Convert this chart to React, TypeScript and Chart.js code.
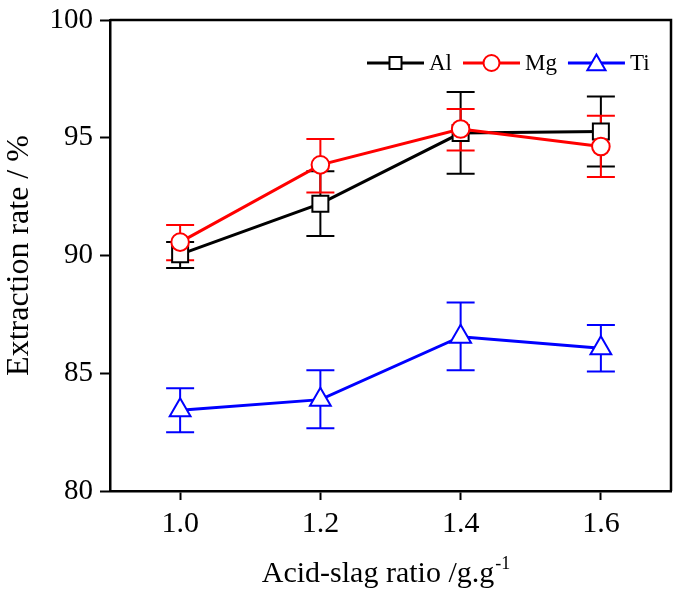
import React, { useEffect, useRef } from "react";
import { Chart, registerables } from "chart.js";

Chart.register(...registerables);

// ---- data ----
const ratios = [1.0, 1.2, 1.4, 1.6];
const alValues = [90.05, 92.2, 95.2, 95.27];
const alLow = [89.47, 90.83, 93.47, 93.78];
const alHigh = [90.57, 93.58, 96.94, 96.75];
const mgValues = [90.57, 93.85, 95.37, 94.63];
const mgLow = [89.8, 92.68, 94.46, 93.33];
const mgHigh = [91.3, 94.95, 96.22, 95.93];
const tiValues = [83.43, 83.88, 86.55, 86.06];
const tiLow = [82.49, 82.66, 85.13, 85.07];
const tiHigh = [84.36, 85.13, 88.0, 87.05];
const xTickValues = [1.0, 1.2, 1.4, 1.6];
const seriesNames = ["Al", "Mg", "Ti"];
const xTitle = "Acid-slag ratio /g.g";
const xTitleSup = "-1";
const yTitle = "Extraction rate / %";

const FONT = "'Liberation Serif', 'Times New Roman', serif";

const errorBarPlugin = {
  id: "errorBars",
  beforeDatasetsDraw(chart: any) {
    const ctx = chart.ctx;
    const yScale = chart.scales.y;
    chart.data.datasets.forEach((ds: any, di: number) => {
      const meta = chart.getDatasetMeta(di);
      ctx.save();
      ctx.strokeStyle = ds.borderColor;
      ctx.lineWidth = 2;
      meta.data.forEach((pt: any, i: number) => {
        const x = pt.x;
        const yl = yScale.getPixelForValue(ds.errLow[i]);
        const yh = yScale.getPixelForValue(ds.errHigh[i]);
        const hw = 14;
        ctx.beginPath();
        ctx.moveTo(x, yl);
        ctx.lineTo(x, yh);
        ctx.moveTo(x - hw, yl);
        ctx.lineTo(x + hw, yl);
        ctx.moveTo(x - hw, yh);
        ctx.lineTo(x + hw, yh);
        ctx.stroke();
      });
      ctx.restore();
    });
  },
};

const framePlugin = {
  id: "frame",
  afterDraw(chart: any) {
    const { ctx, chartArea } = chart;
    ctx.save();
    ctx.strokeStyle = "#000";
    ctx.lineWidth = 2.5;
    ctx.beginPath();
    ctx.moveTo(chartArea.left, chartArea.top);
    ctx.lineTo(chartArea.right, chartArea.top);
    ctx.lineTo(chartArea.right, chartArea.bottom);
    ctx.stroke();
    ctx.restore();
  },
};

const xTitlePlugin = {
  id: "xTitle",
  afterDraw(chart: any) {
    const { ctx, chartArea } = chart;
    ctx.save();
    ctx.fillStyle = "#000";
    ctx.textBaseline = "alphabetic";
    ctx.font = `30px ${FONT}`;
    const w1 = ctx.measureText(xTitle).width;
    ctx.font = `18px ${FONT}`;
    const w2 = ctx.measureText(xTitleSup).width;
    const cx = (chartArea.left + chartArea.right) / 2 - 5;
    const x0 = cx - (w1 + w2) / 2;
    const base = 582;
    ctx.font = `30px ${FONT}`;
    ctx.textAlign = "left";
    ctx.fillText(xTitle, x0, base);
    ctx.font = `18px ${FONT}`;
    ctx.fillText(xTitleSup, x0 + w1 + 1, base - 13);
    ctx.restore();
  },
};

function drawMarker(ctx: CanvasRenderingContext2D, style: string, r: number, x: number, y: number) {
  ctx.beginPath();
  if (style === "rect") {
    const s = Math.SQRT1_2 * r;
    ctx.rect(x - s, y - s, 2 * s, 2 * s);
  } else if (style === "circle") {
    ctx.arc(x, y, r, 0, Math.PI * 2);
  } else {
    ctx.moveTo(x, y - r);
    ctx.lineTo(x + Math.sin((2 * Math.PI) / 3) * r, y + r / 2);
    ctx.lineTo(x - Math.sin((2 * Math.PI) / 3) * r, y + r / 2);
    ctx.closePath();
  }
  ctx.fill();
  ctx.stroke();
}

const legendPlugin = {
  id: "customLegend",
  afterDraw(chart: any) {
    const { ctx } = chart;
    const y = 63;
    let x = 367;
    const lineLen = 57;
    const radii = [8.5, 8, 10.5];
    ctx.save();
    chart.data.datasets.forEach((ds: any, i: number) => {
      ctx.strokeStyle = ds.borderColor;
      ctx.lineWidth = 3;
      ctx.beginPath();
      ctx.moveTo(x, y);
      ctx.lineTo(x + lineLen, y);
      ctx.stroke();
      ctx.fillStyle = "#fff";
      ctx.strokeStyle = ds.borderColor;
      ctx.lineWidth = 2;
      drawMarker(ctx, ds.pointStyle, radii[i], x + lineLen / 2, y + (ds.pointStyle === "triangle" ? 2 : 0));
      ctx.fillStyle = "#000";
      ctx.font = `23px ${FONT}`;
      ctx.textAlign = "left";
      ctx.textBaseline = "middle";
      ctx.fillText(ds.label, x + lineLen + 5, y + 1);
      const tw = ctx.measureText(ds.label).width;
      x = x + lineLen + 5 + tw + 11;
    });
    ctx.restore();
  },
};

export default function App() {
  const ref = useRef<HTMLCanvasElement | null>(null);
  useEffect(() => {
    document.body.style.margin = "0";
    const canvas = ref.current;
    if (!canvas) return;
    const mk = (vals: number[]) => ratios.map((r, i) => ({ x: r, y: vals[i] }));
    const chart = new Chart(canvas, {
      type: "line",
      data: {
        datasets: [
          {
            label: seriesNames[0],
            data: mk(alValues),
            errLow: alLow,
            errHigh: alHigh,
            borderColor: "#000000",
            backgroundColor: "#ffffff",
            pointBackgroundColor: "#ffffff",
            pointBorderColor: "#000000",
            borderWidth: 3,
            pointBorderWidth: 2,
            pointStyle: "rect",
            pointRadius: 11.3,
            order: 1,
          } as any,
          {
            label: seriesNames[1],
            data: mk(mgValues),
            errLow: mgLow,
            errHigh: mgHigh,
            borderColor: "#ff0000",
            backgroundColor: "#ffffff",
            pointBackgroundColor: "#ffffff",
            pointBorderColor: "#ff0000",
            borderWidth: 3,
            pointBorderWidth: 2,
            pointStyle: "circle",
            pointRadius: 8.8,
            order: 0,
          } as any,
          {
            label: seriesNames[2],
            data: mk(tiValues),
            errLow: tiLow,
            errHigh: tiHigh,
            borderColor: "#0000ff",
            backgroundColor: "#ffffff",
            pointBackgroundColor: "#ffffff",
            pointBorderColor: "#0000ff",
            borderWidth: 3,
            pointBorderWidth: 2,
            pointStyle: "triangle",
            pointRadius: 12,
            order: 2,
          } as any,
        ],
      },
      options: {
        responsive: false,
        animation: false,
        events: [],
        layout: { padding: { left: 0, right: 3, top: 20, bottom: 0 } },
        plugins: {
          legend: { display: false },
          tooltip: { enabled: false },
          title: { display: false },
        },
        scales: {
          x: {
            type: "linear",
            min: 0.9,
            max: 1.7,
            afterBuildTicks: (scale: any) => {
              scale.ticks = xTickValues.map((v) => ({ value: v }));
            },
            afterFit: (scale: any) => {
              scale.height = 102;
              scale.paddingLeft = 0;
              scale.paddingRight = 0;
            },
            border: { display: true, color: "#000", width: 2.5 },
            grid: {
              display: true,
              drawOnChartArea: false,
              drawTicks: true,
              tickLength: 9,
              tickWidth: 2,
              color: "#000",
            },
            ticks: {
              color: "#000",
              font: { family: FONT, size: 30 },
              padding: 6,
              maxRotation: 0,
              callback: (v: any) => Number(v).toFixed(1),
            },
            title: { display: false },
          },
          y: {
            type: "linear",
            min: 80,
            max: 100,
            afterFit: (scale: any) => {
              scale.width = 110;
              scale.paddingTop = 0;
              scale.paddingBottom = 0;
            },
            border: { display: true, color: "#000", width: 2.5 },
            grid: {
              display: true,
              drawOnChartArea: false,
              drawTicks: true,
              tickLength: 10,
              tickWidth: 2,
              color: "#000",
            },
            ticks: {
              color: "#000",
              font: { family: FONT, size: 29 },
              padding: 7,
              stepSize: 5,
            },
            title: {
              display: true,
              text: yTitle,
              color: "#000",
              font: { family: FONT, size: 32 },
              padding: { top: 0, bottom: 0 },
            },
          },
        },
      } as any,
      plugins: [errorBarPlugin, framePlugin, xTitlePlugin, legendPlugin],
    });
    return () => chart.destroy();
  }, []);
  return (
    <div style={{ width: 685, height: 593, background: "#fff" }}>
      <canvas ref={ref} width={685} height={593} style={{ display: "block" }} />
    </div>
  );
}
